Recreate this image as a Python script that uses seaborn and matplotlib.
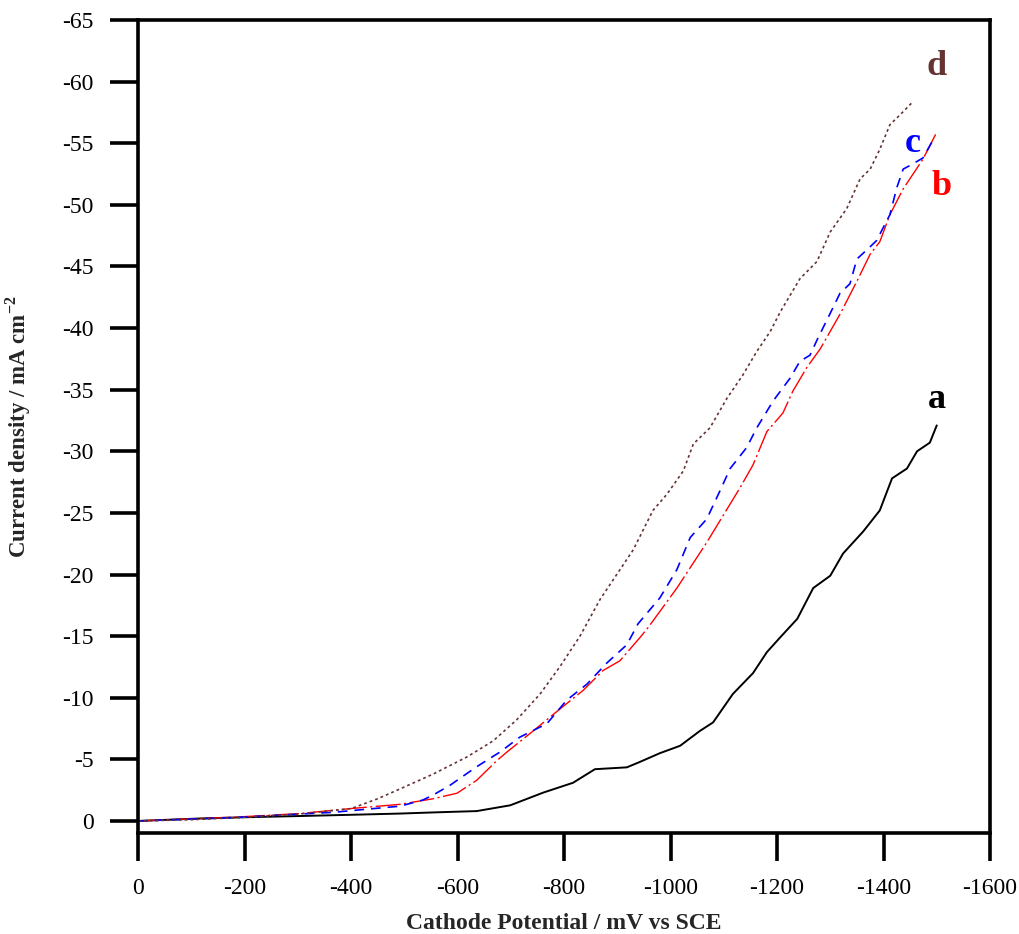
import numpy as np
import pandas as pd
import matplotlib
matplotlib.use("Agg")
import matplotlib.pyplot as plt
import seaborn as sns

# cathode potential (mV vs SCE) and current density (mA cm-2)
pot_a = [0, -116, -200, -304, -400, -492, -560, -636, -699, -761, -817, -858, -918, -943, -980,
         -1018, -1055, -1080, -1117, -1155, -1181, -1206, -1238, -1268, -1300, -1324, -1362,
         -1393, -1416, -1444, -1463, -1487, -1500]
cur_a = [0, -0.2, -0.3, -0.4, -0.5, -0.6, -0.7, -0.8, -1.27, -2.3, -3.1, -4.2, -4.35, -4.8, -5.5,
         -6.1, -7.3, -8.0, -10.3, -12.0, -13.7, -14.9, -16.4, -18.9, -19.9, -21.7, -23.5,
         -25.2, -27.8, -28.6, -30.0, -30.7, -32.1]

pot_b = [0, -178, -304, -398, -492, -554, -599, -636, -674, -693, -742, -787, -836, -873, -905,
         -943, -958, -1012, -1068, -1130, -1155, -1181, -1211, -1230, -1256, -1281, -1318,
         -1350, -1375, -1393, -1412, -1437, -1474, -1500]
cur_b = [0, -0.3, -0.6, -1.0, -1.35, -1.8, -2.25, -3.3, -4.9, -5.6, -7.3, -8.9, -10.6, -12.2, -13.0,
         -14.9, -15.7, -18.9, -22.6, -27.0, -28.9, -31.6, -33.1, -34.9, -36.8, -38.3, -41.1,
         -43.8, -46.0, -47.0, -49.2, -51.3, -53.7, -55.9]

pot_c = [0, -178, -366, -492, -535, -554, -586, -636, -680, -717, -768, -805, -843, -880, -918,
         -939, -980, -1012, -1037, -1068, -1093, -1112, -1143, -1162, -1193, -1224, -1243, -1262,
         -1277, -1300, -1318, -1337, -1350, -1375, -1387, -1412, -1425, -1437, -1450, -1474, -1491]
cur_c = [0, -0.27, -0.7, -1.2, -1.7, -2.1, -2.9, -4.4, -5.6, -6.8, -7.9, -9.8, -11.1, -12.8, -14.3,
         -16.0, -18.1, -20.4, -23.0, -24.5, -26.8, -28.6, -30.3, -31.9, -34.1, -35.9, -37.3, -37.8,
         -39.2, -41.2, -42.8, -43.6, -45.6, -46.6, -47.1, -49.2, -51.4, -52.9, -53.2, -53.8, -55.1]

pot_d = [0, -100, -200, -300, -400, -450, -492, -554, -618, -667, -711, -755, -792, -830, -868,
         -930, -967, -993, -1024, -1043, -1074, -1106, -1136, -1162, -1187, -1206, -1243, -1275,
         -1300, -1331, -1356, -1375, -1393, -1412, -1431, -1456]
cur_d = [0, -0.1, -0.3, -0.55, -1.0, -1.8, -2.6, -3.8, -5.2, -6.5, -8.2, -10.3, -12.5, -15.0, -18.0,
         -22.0, -25.2, -26.5, -28.4, -30.6, -31.9, -34.3, -36.2, -38.1, -39.7, -41.3, -44.0, -45.4,
         -47.8, -49.7, -52.1, -52.9, -54.5, -56.5, -57.3, -58.4]

labels = ["a", "b", "c", "d"]
colors = ["black", "#ff0000", "#0000ff", "#663333"]
x_ticks = [0, -200, -400, -600, -800, -1000, -1200, -1400, -1600]
y_ticks = [0, -5, -10, -15, -20, -25, -30, -35, -40, -45, -50, -55, -60, -65]

sns.set_theme(style="white")
plt.rcParams["font.family"] = ["Liberation Serif", "DejaVu Serif"]
plt.rcParams["mathtext.fontset"] = "custom"
plt.rcParams["mathtext.bf"] = "Liberation Serif:bold"
plt.rcParams["mathtext.rm"] = "Liberation Serif"
plt.rcParams["axes.unicode_minus"] = False
plt.rcParams["lines.scale_dashes"] = False

fig = plt.figure(figsize=(10.2, 9.34), dpi=100)
ax = fig.add_axes([0.1353, 0.1085, 0.8353, 0.8701])

curves = [(pot_a, cur_a), (pot_b, cur_b), (pot_c, cur_c), (pot_d, cur_d)]
styles = [dict(lw=1.4), dict(lw=1.0, dashes=(18, 2.5, 1.5, 2.5)),
          dict(lw=1.2, dashes=(7, 5)), dict(lw=1.2, dashes=(2, 2.2))]
for (px, cy), lab, col, st in zip(curves, labels, colors, styles):
    df = pd.DataFrame({"pot": px, "cur": cy})
    sns.lineplot(data=df, x="pot", y="cur", sort=False, color=col, ax=ax,
                 linewidth=st["lw"], estimator=None)
    if "dashes" in st:
        ax.lines[-1].set_dashes(st["dashes"])

# curve labels
lab_pos = {"a": (-1500, -34.2), "b": (-1510, -51.5), "c": (-1455, -55.0), "d": (-1500, -61.2)}
for lab, col in zip(labels, colors):
    xx, yy = lab_pos[lab]
    ax.text(xx, yy, lab, color=col, fontsize=26, fontweight="bold", ha="center", va="center")

ax.set_xlim(0, -1600)
ax.set_ylim(0.95, -65)
ax.set_xticks(x_ticks)
ax.set_yticks(y_ticks)
ax.set_xticklabels([str(v) for v in x_ticks])
ax.set_yticklabels([str(v) for v in y_ticks])

for sp in ax.spines.values():
    sp.set_visible(True)
    sp.set_color("black")
    sp.set_linewidth(2.6)
ax.tick_params(axis="both", which="major", direction="out", length=20, width=2.6,
               colors="black", labelsize=17, pad=12, bottom=True, left=True,
               top=False, right=False)
ax.tick_params(axis="x", pad=13)

ax.set_xlabel("Cathode Potential / mV vs SCE", fontsize=17, fontweight="bold", labelpad=10)
ax.set_ylabel(r"Current density / mA cm$^{\mathbf{-2}}$", fontsize=16.5, fontweight="bold", labelpad=21)
ax.grid(False)

fig.savefig("out.png", dpi=100)
